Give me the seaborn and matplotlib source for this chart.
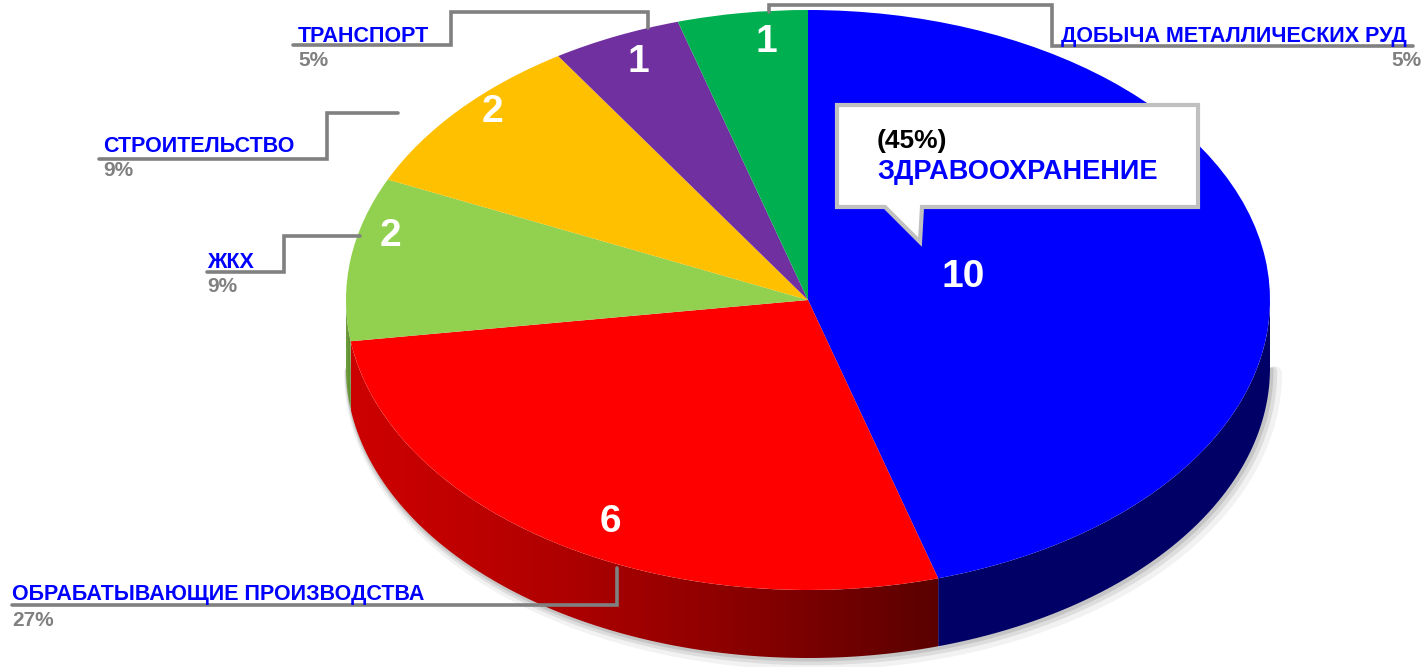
import numpy as np
import matplotlib
matplotlib.use("Agg")
import matplotlib.pyplot as plt
import seaborn as sns
from matplotlib.patches import Polygon
from matplotlib.colors import to_rgb

# данные
categories = ['ЗДРАВООХРАНЕНИЕ', 'ОБРАБАТЫВАЮЩИЕ ПРОИЗВОДСТВА', 'ЖКХ',
              'СТРОИТЕЛЬСТВО', 'ТРАНСПОРТ', 'ДОБЫЧА МЕТАЛЛИЧЕСКИХ РУД']
values = [10, 6, 2, 2, 1, 1]
top_colors = ['#0000FF', '#FF0000', '#92D050', '#FFC000', '#7030A0', '#00B050']
side_light = ['#000066', '#CC0000', '#6E9E3C', '#C09000', '#4A1E6E', '#007A3A']
side_dark = ['#000066', '#5A0000', '#5C8A30', '#A07800', '#3C1858', '#006030']

sns.set_theme(style='white')
plt.rcParams['font.family'] = ['Liberation Sans', 'DejaVu Sans']

W, H = 1425, 667
fig = plt.figure(figsize=(W / 100, H / 100), dpi=100)

# геометрия "3D" круга в пикселях
cx, cy, rx, ry, depth = 808, 300, 462, 290, 68
ax = fig.add_axes([0, 0, 1, 1])
total = sum(values)
pcts = [round(v / total * 100) for v in values]
d = depth / ry

# мягкая тень под нижним краем
th = np.radians(np.linspace(-180, 0, 200))
for k, a in [(5, 0.10), (3, 0.18), (1.5, 0.25)]:
    ax.plot(np.cos(th) + k / rx, np.sin(th) - d - k / ry, color='gray',
            lw=2 * k, alpha=a, zorder=0.5, solid_capstyle='round')

# боковая стенка (передняя половина) с градиентом
cum = np.cumsum([0] + values)
for i, v in enumerate(values):
    t1 = 90 - 360 * cum[i] / total
    t2 = 90 - 360 * cum[i + 1] / total
    a, b = max(t2, -180), min(t1, 0)
    if a >= b:
        continue
    th = np.radians(np.linspace(a, b, 120))
    xs, ys = np.cos(th), np.sin(th)
    pts = np.column_stack([np.r_[xs, xs[::-1]], np.r_[ys, ys[::-1] - d]])
    poly = Polygon(pts, closed=True, facecolor='none', edgecolor='none', zorder=1)
    ax.add_patch(poly)
    f = np.linspace(0, 1, 256) ** 1.3
    c1, c2 = np.array(to_rgb(side_light[i])), np.array(to_rgb(side_dark[i]))
    grad = (c1[None, :] * (1 - f[:, None]) + c2[None, :] * f[:, None])[None, :, :]
    im = ax.imshow(grad, extent=[xs.min(), xs.max(), ys.min() - d, ys.max()],
                   aspect='auto', interpolation='bilinear', zorder=1)
    im.set_clip_path(poly)

ax.pie(values, colors=top_colors, startangle=90, counterclock=False,
       radius=1, center=(0, 0), wedgeprops=dict(linewidth=0, zorder=2))
ax.set_aspect('auto')
ax.set_xlim(-cx / rx, (W - cx) / rx)
ax.set_ylim(-(H - cy) / ry, cy / ry)
ax.axis('off')

# слой подписей в пикселях
ov = fig.add_axes([0, 0, 1, 1], facecolor='none')
ov.set_xlim(0, W)
ov.set_ylim(H, 0)
ov.axis('off')

gray = '#808080'
blue = '#0000FF'

# числа внутри секторов
num_pos = [(963, 277), (610, 522), (390, 236), (492, 112), (638, 62), (766, 42)]
for (x, y), v in zip(num_pos, values):
    ov.text(x, y, str(v), color='white', fontsize=28, fontweight='bold',
            ha='center', va='center', zorder=5)

# выноски
leaders = {
    1: [(12, 605), (617, 605), (617, 568)],
    2: [(207, 272), (284, 272), (284, 236), (360, 236)],
    3: [(99, 159), (327, 159), (327, 113), (398, 113)],
    4: [(293, 45), (451, 45), (451, 12), (648, 12), (648, 28)],
    5: [(769, 12), (769, 5), (1052, 5), (1052, 46), (1413, 46)],
}
for i, pts in leaders.items():
    xs, ys = zip(*pts)
    ov.plot(xs, ys, color=gray, lw=2.6, solid_joinstyle='miter', zorder=4)

label_pos = {
    1: (12, 600, 'left', 12, 611, 'left'),
    2: (207, 268, 'left', 207, 277, 'left'),
    3: (103, 152, 'left', 103, 161, 'left'),
    4: (298, 42, 'left', 298, 51, 'left'),
    5: (1407, 42, 'right', 1422, 51, 'right'),
}
for i, (tx, ty, tha, px, py, pha) in label_pos.items():
    ov.text(tx, ty, categories[i], color=blue, fontsize=15.5, fontweight='bold',
            ha=tha, va='baseline', zorder=5)
    ov.text(px, py, f'{pcts[i]}%', color=gray, fontsize=15, fontweight='bold',
            ha=pha, va='top', zorder=5)

# выноска-облачко для крупнейшего сектора
callout = [(837, 105), (1198, 105), (1198, 207), (922, 207), (920, 242),
           (885, 207), (837, 207)]
ov.add_patch(Polygon(callout, closed=True, facecolor='white',
                     edgecolor='#C0C0C0', lw=3, zorder=4))
ov.text(877, 148, f'({pcts[0]}%)', color='black', fontsize=19,
        fontweight='bold', va='baseline', zorder=5)
ov.text(877, 179, categories[0], color=blue, fontsize=19.5,
        fontweight='bold', va='baseline', zorder=5)

fig.savefig('out.png', dpi=100)
